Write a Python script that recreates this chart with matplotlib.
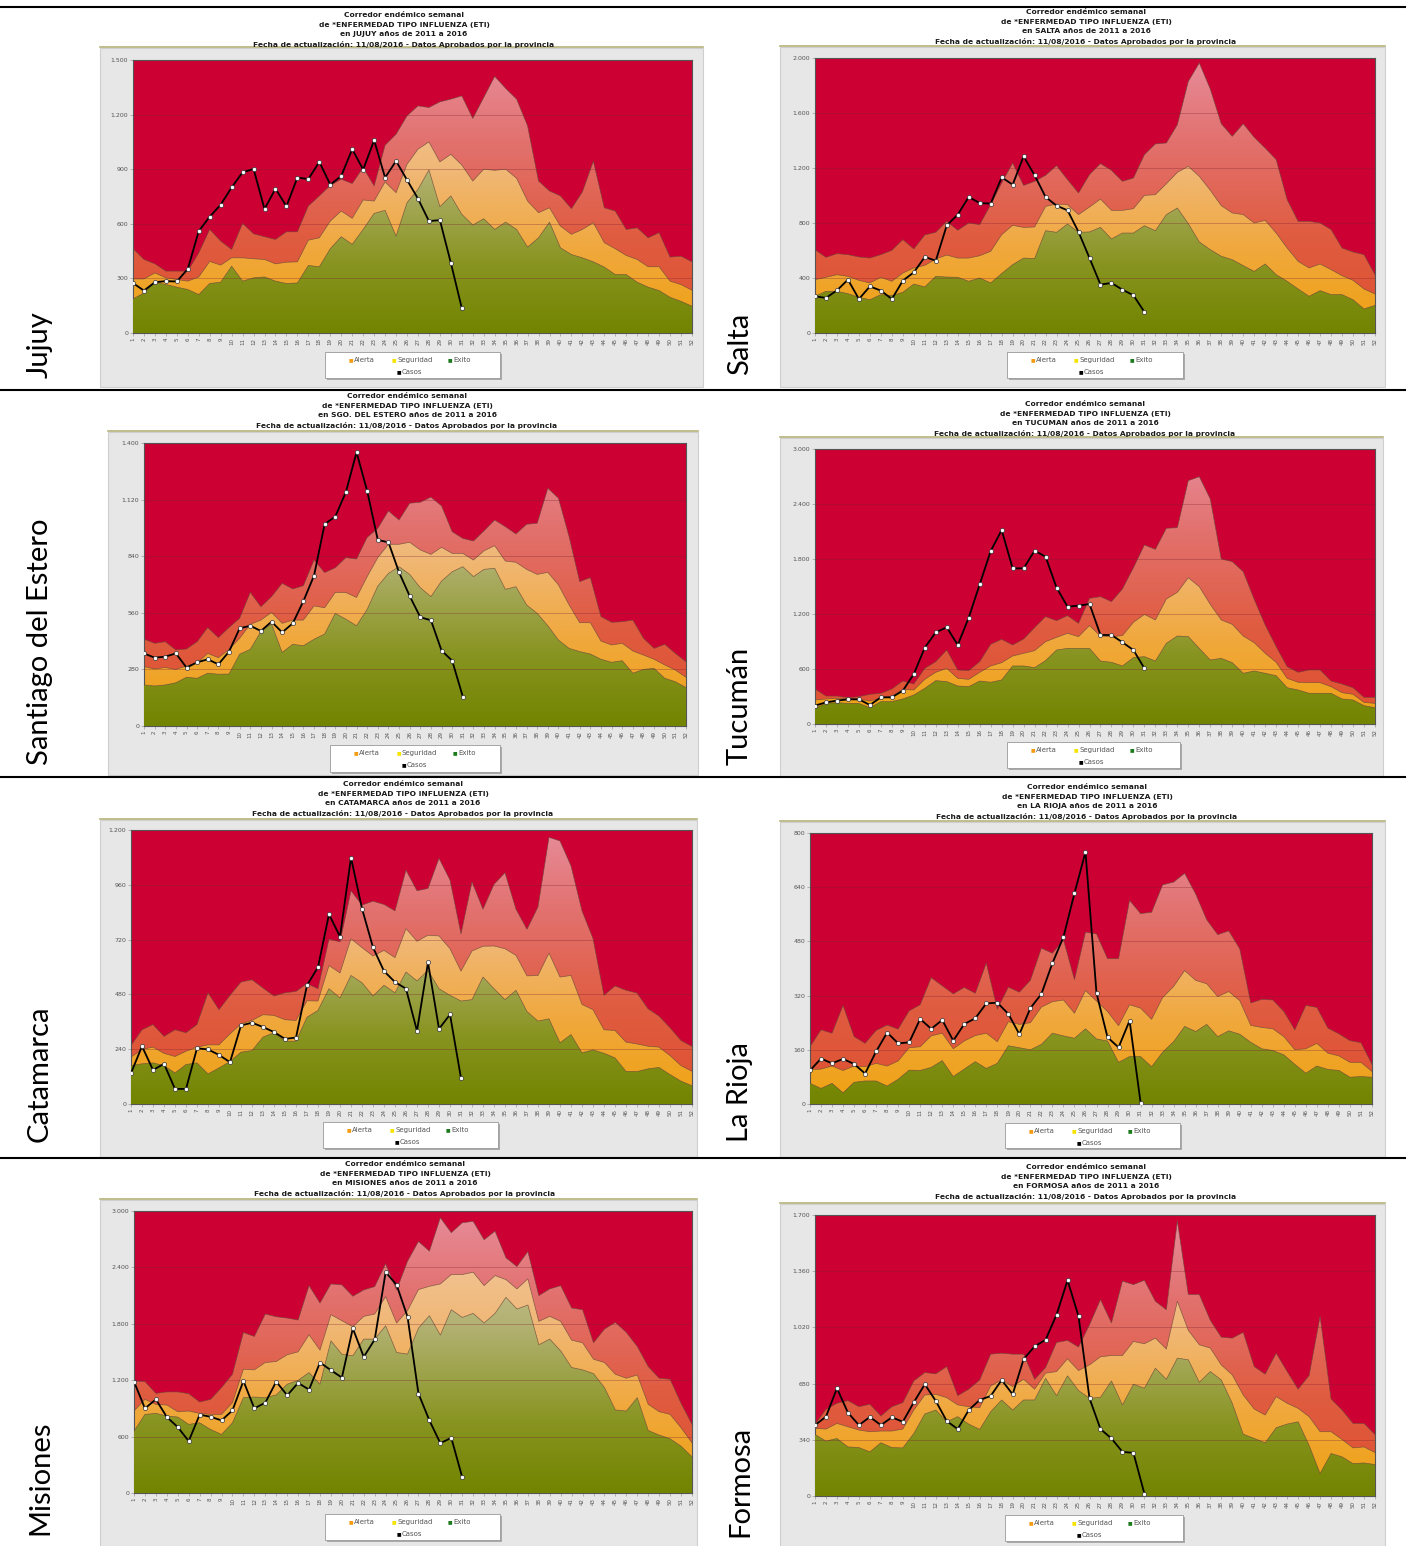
import numpy as np
import matplotlib.pyplot as plt
from matplotlib.colors import LinearSegmentedColormap
from matplotlib.patches import Rectangle
from matplotlib.lines import Line2D

weeks = list(range(1, 53))

jujuy_alerta = [464,404,380,340,340,340,440,569,505,459,602,545,529,514,556,556,698,753,811,845,821,909,808,1032,1092,1193,1248,1239,1270,1285,1303,1179,1294,1410,1344,1285,1138,835,780,753,683,775,944,688,670,569,578,523,551,417,422,391]
jujuy_seguridad = [297,297,330,303,294,285,308,393,373,413,413,408,404,380,389,391,510,523,615,670,630,731,725,830,771,927,1010,1050,940,982,923,835,900,894,900,850,725,661,688,587,542,569,606,496,463,426,404,364,364,285,266,235]
jujuy_exito = [187,220,279,266,252,239,211,272,279,367,285,303,308,285,272,275,371,364,463,529,487,569,657,674,532,716,789,896,694,753,652,593,628,569,609,569,472,523,609,468,431,413,391,362,321,321,279,252,233,196,174,147]
jujuy_casos = [274,233,279,285,283,352,560,639,705,800,883,901,681,793,696,854,846,940,815,863,1010,898,1059,854,945,841,738,615,620,385,136]

salta_alerta = [606,550,577,570,553,545,570,601,679,611,713,732,812,747,800,788,933,1091,1236,1073,1103,1147,1217,1115,1018,1152,1232,1183,1103,1127,1297,1375,1382,1515,1830,1964,1774,1522,1430,1522,1423,1345,1261,970,812,812,800,752,618,589,570,424]
salta_seguridad = [388,405,424,412,383,364,405,376,436,473,492,538,567,545,545,562,594,715,783,768,771,921,938,933,861,916,974,892,892,904,1001,1006,1085,1168,1212,1139,1038,926,873,861,800,819,727,618,521,473,502,461,417,383,320,284]
salta_exito = [267,303,303,286,259,242,279,272,296,356,335,412,407,405,376,400,364,432,497,545,541,744,732,793,732,735,768,684,727,727,780,744,861,909,795,662,606,558,533,490,448,502,424,376,320,267,308,279,279,242,175,201]
salta_casos = [267,255,310,388,247,339,308,247,381,441,553,526,783,861,989,945,941,1132,1079,1285,1147,989,926,892,735,545,352,364,315,274,153]

sde_alerta = [430,409,417,376,381,417,487,437,487,533,661,590,640,706,678,694,821,759,783,833,826,933,978,1064,1019,1102,1107,1132,1089,961,928,915,966,1019,986,950,998,1003,1176,1127,937,714,734,541,513,516,524,434,384,404,359,318]
sde_seguridad = [294,282,289,280,297,313,359,338,379,434,503,524,562,508,524,524,594,585,661,660,636,739,833,899,899,909,871,849,884,854,854,821,867,892,816,810,775,750,760,698,599,511,511,420,401,409,371,351,330,302,277,241]
sde_exito = [203,198,203,214,241,236,261,256,257,355,379,467,505,364,404,397,429,455,557,528,496,577,692,755,788,750,684,640,717,763,788,739,775,780,676,689,599,557,496,425,384,368,356,330,315,323,261,280,285,236,219,190]
sde_casos = [359,338,343,359,289,315,330,305,368,483,496,470,516,463,508,618,744,999,1036,1158,1354,1163,920,909,760,643,538,523,373,323,145]

tuc_alerta = [382,305,305,287,298,324,335,382,469,436,607,680,807,589,582,680,869,924,862,927,1051,1171,1127,1182,1098,1371,1389,1335,1473,1705,1953,1905,2135,2142,2655,2698,2455,1800,1771,1662,1360,1080,844,625,564,589,589,469,436,396,291,291]
tuc_seguridad = [262,273,280,273,273,251,280,305,378,371,487,564,607,498,487,564,633,669,742,771,800,898,945,989,953,1073,960,953,964,1109,1196,1135,1364,1436,1596,1498,1305,1135,1087,960,887,771,673,498,455,451,451,407,342,324,236,225]
tuc_exito = [171,225,233,225,225,178,244,244,273,316,389,473,462,415,407,469,455,480,633,633,615,691,807,825,825,825,687,673,633,724,735,687,880,960,953,825,698,716,669,553,578,553,527,396,371,335,335,335,273,262,200,178]
tuc_casos = [200,236,255,269,269,207,291,291,364,545,833,1000,1055,862,1160,1524,1887,2116,1698,1698,1891,1825,1487,1280,1291,1309,971,971,891,807,607]

cat_alerta = [256,325,348,296,325,312,348,487,413,476,534,544,508,473,487,493,527,505,722,710,934,871,888,874,846,1024,934,944,1076,981,745,973,853,962,1013,853,765,863,1168,1152,1043,846,725,476,517,498,486,417,385,334,278,252]
cat_seguridad = [205,239,249,222,208,231,249,259,259,307,351,366,391,388,369,366,452,451,606,574,724,685,648,673,641,768,713,739,736,680,582,670,691,692,680,651,561,563,661,556,563,436,413,325,322,271,263,253,249,212,168,143]
cat_exito = [168,176,180,168,136,173,180,132,158,186,227,234,293,312,275,275,380,410,505,464,563,531,473,520,487,578,539,585,505,476,451,457,556,505,457,498,405,363,373,268,304,224,237,222,202,143,142,154,160,129,100,80]
cat_casos = [135,253,149,176,66,66,244,239,215,183,344,356,337,315,285,291,520,599,831,733,1079,856,686,582,534,505,320,620,329,392,113]

lr_alerta = [169,219,209,291,199,179,217,233,221,275,293,373,349,325,344,327,416,280,345,330,365,460,445,485,367,507,502,429,429,601,562,566,647,655,681,620,544,500,511,458,298,309,307,273,219,291,285,224,207,187,181,117]
lr_seguridad = [102,103,112,99,112,110,120,112,127,166,169,201,209,163,186,202,209,184,243,235,240,286,302,307,268,335,304,273,231,293,283,250,314,347,394,365,355,317,332,305,232,226,222,199,160,163,179,150,142,123,123,96]
lr_exito = [61,46,61,33,64,68,68,53,73,100,99,108,128,81,103,125,105,120,172,166,160,176,209,201,194,222,192,186,123,140,140,110,153,184,229,214,235,199,216,206,182,163,158,145,117,91,112,102,99,79,81,79]
lr_casos = [99,134,120,133,118,90,155,211,179,182,251,222,248,187,236,253,297,299,266,206,283,325,416,493,622,744,327,197,167,246,4]

mis_alerta = [1192,1185,1060,1075,1075,1057,968,996,1121,1263,1708,1665,1904,1875,1861,1840,2206,2021,2224,2214,2093,2160,2196,2438,2160,2466,2676,2573,2929,2769,2875,2890,2694,2786,2502,2409,2569,2100,2171,2206,1968,1950,1598,1744,1815,1708,1559,1345,1221,1210,954,730]
mis_seguridad = [872,996,943,936,865,872,847,836,836,961,1317,1310,1388,1399,1470,1502,1683,1520,1897,1833,1769,1879,1904,2089,1808,1940,2164,2199,2224,2324,2324,2349,2206,2313,2270,2171,2278,1826,1879,1826,1626,1598,1423,1388,1263,1221,1256,943,865,836,694,534]
mis_exito = [658,836,847,819,808,730,747,676,623,747,1014,1021,1014,1043,1157,1199,1281,1157,1619,1477,1459,1637,1637,1779,1495,1477,1754,1886,1679,1950,1868,1911,1808,1911,2082,1957,2000,1577,1637,1512,1335,1310,1270,1121,883,872,1014,665,616,577,498,384]
mis_casos = [1185,900,996,808,701,552,833,811,772,879,1192,900,961,1185,1039,1171,1100,1388,1306,1228,1751,1448,1633,2349,2214,1875,1057,772,530,587,167]

for_alerta = [435,524,561,577,540,555,484,540,565,696,747,739,783,607,646,702,858,864,858,858,706,777,929,941,901,1036,1188,1047,1300,1279,1305,1178,1127,1664,1219,1219,1063,961,955,990,783,737,864,753,646,729,1087,587,520,439,439,372]
for_seguridad = [409,405,439,419,399,389,393,393,405,520,611,615,595,551,540,534,666,702,662,706,646,743,753,830,759,793,842,850,850,935,921,955,889,1178,1002,915,895,793,733,611,526,490,601,561,530,480,389,389,342,291,297,263]
for_exito = [372,332,348,297,293,267,322,293,291,378,496,520,449,480,435,403,510,581,520,581,581,712,607,727,638,591,597,696,551,676,652,773,706,834,824,688,753,702,561,374,348,322,413,435,449,306,136,257,237,196,200,190]
for_casos = [429,480,652,504,429,478,429,476,449,567,676,575,453,405,520,581,605,702,615,828,905,945,1097,1305,1087,591,405,348,267,261,14]

# name, province in title, y max, y step, series
panels = [
    ('Jujuy', 'JUJUY', 1500, 300, jujuy_alerta, jujuy_seguridad, jujuy_exito, jujuy_casos),
    ('Salta', 'SALTA', 2000, 400, salta_alerta, salta_seguridad, salta_exito, salta_casos),
    ('Santiago del Estero', 'SGO. DEL ESTERO', 1400, 280, sde_alerta, sde_seguridad, sde_exito, sde_casos),
    ('Tucumán', 'TUCUMAN', 3000, 600, tuc_alerta, tuc_seguridad, tuc_exito, tuc_casos),
    ('Catamarca', 'CATAMARCA', 1200, 240, cat_alerta, cat_seguridad, cat_exito, cat_casos),
    ('La Rioja', 'LA RIOJA', 800, 160, lr_alerta, lr_seguridad, lr_exito, lr_casos),
    ('Misiones', 'MISIONES', 3000, 600, mis_alerta, mis_seguridad, mis_exito, mis_casos),
    ('Formosa', 'FORMOSA', 1700, 340, for_alerta, for_seguridad, for_exito, for_casos),
]

# pixel boxes: plot area, grey chart box, title centre (x, first line y), legend box, side label (x, bottom y)
layout = [
    dict(plot=(133, 60, 692, 333), bg=(100, 48, 703, 387), title=(404, 15), legend=(325, 352, 500, 378), label=(40, 378)),
    dict(plot=(815, 58, 1375, 333), bg=(780, 47, 1385, 387), title=(1086, 12), legend=(1007, 352, 1183, 378), label=(740, 375)),
    dict(plot=(144, 443, 686, 726), bg=(108, 432, 698, 775), title=(407, 396), legend=(330, 745, 500, 772), label=(40, 765)),
    dict(plot=(815, 449, 1375, 724), bg=(780, 438, 1383, 777), title=(1085, 404), legend=(1007, 742, 1180, 768), label=(740, 765)),
    dict(plot=(131, 830, 692, 1104), bg=(100, 820, 697, 1157), title=(403, 784), legend=(323, 1122, 498, 1148), label=(40, 1142)),
    dict(plot=(810, 833, 1372, 1104), bg=(780, 822, 1385, 1157), title=(1087, 787), legend=(1005, 1123, 1180, 1148), label=(740, 1142)),
    dict(plot=(134, 1211, 692, 1493), bg=(100, 1200, 697, 1546), title=(405, 1164), legend=(325, 1514, 500, 1540), label=(40, 1535)),
    dict(plot=(815, 1215, 1375, 1496), bg=(780, 1204, 1385, 1546), title=(1086, 1167), legend=(1005, 1515, 1183, 1541), label=(740, 1537)),
]

W, H = 1409, 1546
fig = plt.figure(figsize=(W / 100, H / 100), dpi=100)
fig.patch.set_facecolor('white')


def fx(x):
    return x / W


def fy(y):
    return 1 - y / H


def frect(x0, y0, x1, y1):
    return [fx(x0), fy(y1), (x1 - x0) / W, (y1 - y0) / H]


cmap_alerta = LinearSegmentedColormap.from_list('alerta', [(0, '#df4f2f'), (0.35, '#e05c40'), (0.7, '#e2716e'), (1, '#e78c9a')])
cmap_seg = LinearSegmentedColormap.from_list('seg', [(0, '#efa00f'), (0.3, '#f0a83c'), (0.6, '#f0b877'), (1, '#f3cba8')])
cmap_exito = LinearSegmentedColormap.from_list('exito', [(0, '#728400'), (0.25, '#889420'), (0.6, '#b3b274'), (1, '#d2cba2')])
grad = np.linspace(0, 1, 256).reshape(-1, 1)

title_lines = ['Corredor endémico semanal', 'de *ENFERMEDAD TIPO INFLUENZA (ETI)',
               'en {} años de 2011 a 2016', 'Fecha de actualización: 11/08/2016 - Datos Aprobados por la provincia']

for (name, prov, ymax, step, alerta, seg, exito, casos), lay in zip(panels, layout):
    x0, y0, x1, y1 = lay['bg']
    fig.add_artist(Rectangle((fx(x0), fy(y1)), (x1 - x0) / W, (y1 - y0) / H, transform=fig.transFigure,
                             facecolor='#e7e7e7', edgecolor='#cfcfcf', lw=0.8, zorder=-2))
    fig.add_artist(Line2D([fx(x0), fx(x1)], [fy(y0 - 1), fy(y0 - 1)], color='#b5b27a', lw=1.2))

    tx, ty = lay['title']
    for i, line in enumerate(title_lines):
        fig.text(fx(tx), fy(ty + i * 9.7), line.format(prov), ha='center', va='center',
                 fontsize=5.4, fontweight='bold', color='#1a1a1a')

    ax = fig.add_axes(frect(*lay['plot']))
    ax.set_facecolor('#cc0033')
    for vals, cmap, z in [(alerta, cmap_alerta, 1), (seg, cmap_seg, 2), (exito, cmap_exito, 3)]:
        poly = ax.fill_between(weeks, 0, vals, facecolor='none', edgecolor='none')
        im = ax.imshow(grad, extent=[1, 52, 0, ymax], origin='lower', aspect='auto', cmap=cmap, zorder=z)
        im.set_clip_path(poly.get_paths()[0], transform=ax.transData)
        ax.plot(weeks, vals, color='#6b4a3a', lw=0.5, alpha=0.8, zorder=z + 0.5)

    for v in range(step, ymax, step):
        ax.axhline(v, color='#7a2030', lw=0.5, alpha=0.45, zorder=4)

    ax.plot(weeks[:len(casos)], casos, color='black', lw=1.3, marker='o', ms=3, mfc='white',
            mec='#333333', mew=0.5, zorder=6)

    ax.set_xlim(1, 52)
    ax.set_ylim(0, ymax)
    yt = list(range(0, ymax + 1, step))
    ax.set_yticks(yt)
    ax.set_yticklabels([f'{v:,}'.replace(',', '.') for v in yt], fontsize=4.5, color='#555555')
    ax.set_xticks(weeks)
    ax.set_xticklabels([str(w) for w in weeks], rotation=90, fontsize=4, color='#555555')
    ax.tick_params(length=2, width=0.4, color='#888888', pad=1.5)
    for s in ax.spines.values():
        s.set_color('#555555')
        s.set_linewidth(0.8)

    # legend box
    lx0, ly0, lx1, ly1 = lay['legend']
    fig.add_artist(Rectangle((fx(lx0 + 2), fy(ly1 + 2)), (lx1 - lx0) / W, (ly1 - ly0) / H, transform=fig.transFigure,
                             facecolor='#aaaaaa', edgecolor='none', zorder=2))
    fig.add_artist(Rectangle((fx(lx0), fy(ly1)), (lx1 - lx0) / W, (ly1 - ly0) / H, transform=fig.transFigure,
                             facecolor='white', edgecolor='#999999', lw=0.6, zorder=3))
    items = [('Alerta', '#f39c12', 26, 8), ('Seguridad', '#f5e400', 69, 8), ('Exito', '#1b7a1b', 125, 8),
             ('Casos', 'black', 74, 20)]
    for lab, col, dx, dy in items:
        fig.text(fx(lx0 + dx), fy(ly0 + dy), '■', color=col, fontsize=3.5, ha='center', va='center', zorder=4)
        fig.text(fx(lx0 + dx + 3), fy(ly0 + dy), lab, color='#555555', fontsize=5, ha='left', va='center', zorder=4)

    lbx, lby = lay['label']
    fig.text(fx(lbx), fy(lby), name, rotation=90, ha='center', va='bottom', fontsize=21,
             family=['Lato', 'DejaVu Sans'], color='black')

for y in [7, 390, 777, 1158]:
    fig.add_artist(Line2D([0, fx(1405)], [fy(y), fy(y)], color='black', lw=1.5))

fig.savefig('out.png', dpi=100)
